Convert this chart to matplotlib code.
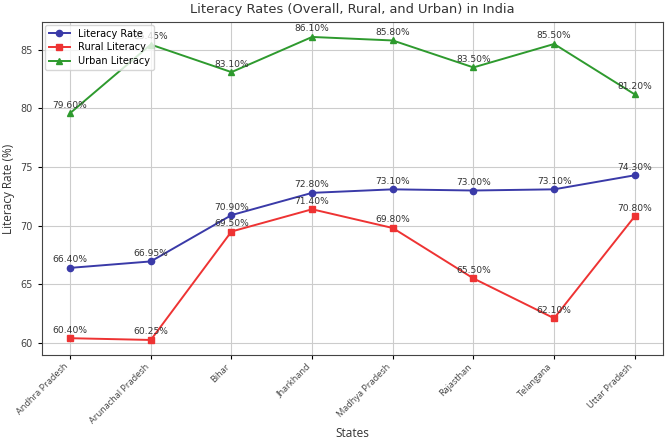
import matplotlib
matplotlib.use('Agg')
from matplotlib import pyplot as plt

states = ['Andhra Pradesh', 'Arunachal Pradesh', 'Bihar', 'Jharkhand',
          'Madhya Pradesh', 'Rajasthan', 'Telangana', 'Uttar Pradesh']
literacy = [66.40, 66.95, 70.90, 72.80, 73.10, 73.00, 73.10, 74.30]
rural = [60.40, 60.25, 69.50, 71.40, 69.80, 65.50, 62.10, 70.80]
urban = [79.60, 85.45, 83.10, 86.10, 85.80, 83.50, 85.50, 81.20]


def label_points(ax, values):
    for i, v in enumerate(values):
        ax.annotate(f'{v:.2f}%', (i, v), textcoords='offset points',
                    xytext=(0, 4), ha='center', fontsize=6.6, color='#333333')


def main():
    fig = plt.figure(figsize=(6.65, 4.45), dpi=100)
    ax = fig.add_axes([0.063, 0.202, 0.934, 0.749])

    x = range(len(states))
    ax.plot(x, literacy, marker='o', color='#3a3aa8', markersize=4.5, lw=1.4, label='Literacy Rate')
    ax.plot(x, rural, marker='s', color='#ee3333', markersize=4.5, lw=1.4, label='Rural Literacy')
    ax.plot(x, urban, marker='^', color='#2e9a2e', markersize=4.5, lw=1.4, label='Urban Literacy')

    label_points(ax, literacy)
    label_points(ax, rural)
    label_points(ax, urban)

    ax.set_title('Literacy Rates (Overall, Rural, and Urban) in India', fontsize=9.4, color='#333333')
    ax.set_xlabel('States', fontsize=8.5, family='Open Sans', color='#333333', labelpad=1)
    ax.set_ylabel('Literacy Rate (%)', fontsize=8.5, family='Open Sans', color='#333333')
    ax.set_xticks(list(x))
    ax.set_xticklabels(states, rotation=45, ha='right', fontsize=6.6, family='Open Sans', color='#444444')
    ax.set_yticks([60, 65, 70, 75, 80, 85])
    ax.tick_params(axis='y', labelsize=7, labelcolor='#444444')
    ax.tick_params(length=3, width=0.8)
    ax.tick_params(axis='x', pad=2)
    ax.grid(True, color='#cccccc', lw=0.8)
    for s in ax.spines.values():
        s.set_color('#444444')
    ax.legend(loc='upper left', fontsize=7, handlelength=2.2, borderaxespad=0.3, labelspacing=0.4)

    fig.savefig('out.png', dpi=100)


if __name__ == '__main__':
    main()
